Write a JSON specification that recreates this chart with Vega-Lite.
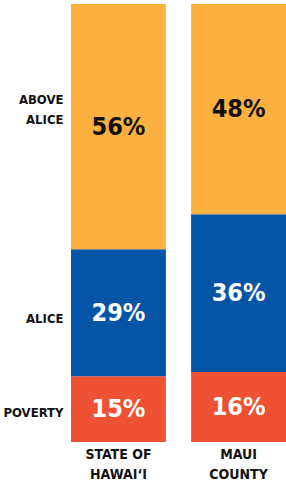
{
  "$schema": "https://vega.github.io/schema/vega-lite/v6.json",
  "autosize": "none",
  "padding": {"left": 71, "top": 4, "right": 0, "bottom": 44},
  "width": 215,
  "height": 438,
  "background": "white",
  "config": {"view": {"stroke": null}, "font": "DejaVu Sans Condensed"},
  "data": {
    "values": [
      {"region": "STATE OF HAWAI‘I", "group": "POVERTY", "order": 1, "value": 15},
      {"region": "STATE OF HAWAI‘I", "group": "ALICE", "order": 2, "value": 29},
      {"region": "STATE OF HAWAI‘I", "group": "ABOVE ALICE", "order": 3, "value": 56},
      {"region": "MAUI COUNTY", "group": "POVERTY", "order": 1, "value": 16},
      {"region": "MAUI COUNTY", "group": "ALICE", "order": 2, "value": 36},
      {"region": "MAUI COUNTY", "group": "ABOVE ALICE", "order": 3, "value": 48}
    ]
  },
  "transform": [
    {"stack": "value", "groupby": ["region"], "sort": [{"field": "order"}], "as": ["y0", "y1"]},
    {"calculate": "(datum.y0 + datum.y1) / 2", "as": "mid"},
    {"calculate": "datum.value + '%'", "as": "label"}
  ],
  "encoding": {
    "x": {
      "field": "region", "type": "nominal",
      "sort": ["STATE OF HAWAI‘I", "MAUI COUNTY"],
      "scale": {"paddingInner": 0.21, "paddingOuter": 0},
      "axis": {
        "title": null, "domain": false, "ticks": false, "labelAngle": 0,
        "labelPadding": 5, "labelFontSize": 14, "labelFontWeight": "bold",
        "labelColor": "#111", "labelLineHeight": 20,
        "labelExpr": "datum.value == 'MAUI COUNTY' ? ['MAUI', 'COUNTY'] : ['STATE OF', 'HAWAI‘I']"
      }
    }
  },
  "layer": [
    {
      "mark": {"type": "bar"},
      "encoding": {
        "y": {
          "field": "y0", "type": "quantitative",
          "scale": {"domain": [0, 100], "nice": false},
          "axis": {
            "title": null, "domain": false, "ticks": false, "grid": false,
            "values": [6.8, 28.3, 78.1], "labelPadding": 8,
            "labelFontSize": 13, "labelFontWeight": "bold", "labelColor": "#111",
            "labelLineHeight": 20, "labelBaseline": "middle",
            "labelExpr": "datum.value < 10 ? 'POVERTY' : datum.value < 50 ? 'ALICE' : ['ABOVE', 'ALICE']"
          }
        },
        "y2": {"field": "y1"},
        "color": {
          "field": "group", "type": "nominal", "legend": null,
          "scale": {"domain": ["POVERTY", "ALICE", "ABOVE ALICE"], "range": ["#EF5134", "#0555A6", "#FBB040"]}
        }
      }
    },
    {
      "mark": {"type": "text", "fontSize": 25, "fontWeight": "bold", "baseline": "middle"},
      "encoding": {
        "y": {"field": "mid", "type": "quantitative"},
        "text": {"field": "label"},
        "color": {
          "condition": {"test": "datum.group == 'ABOVE ALICE'", "value": "#111"},
          "value": "white"
        }
      }
    }
  ]
}
